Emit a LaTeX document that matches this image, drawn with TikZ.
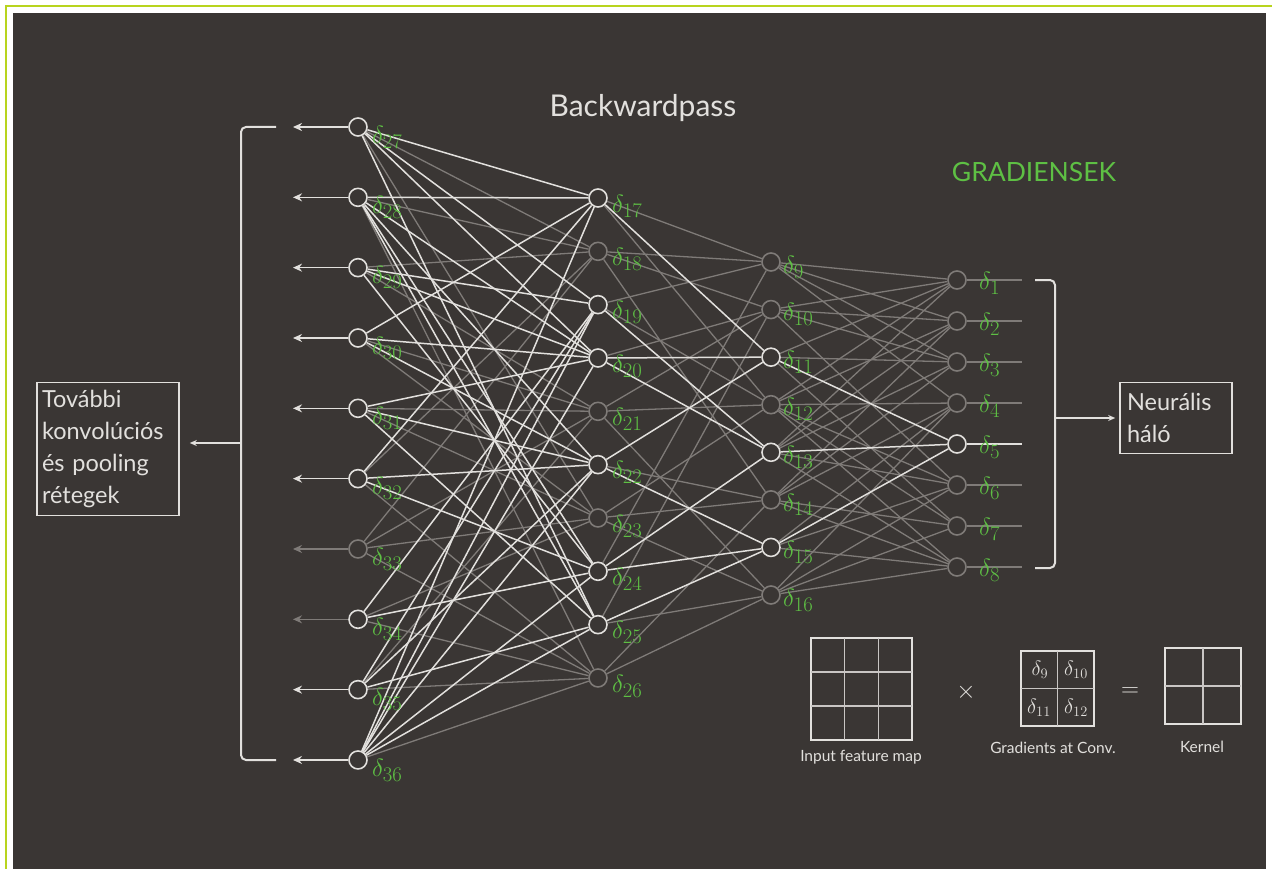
\documentclass[tikz,border=0pt]{standalone}
\usepackage{fontspec}
\setmainfont{Lato}
\usetikzlibrary{arrows.meta,calc}
\definecolor{bgc}{HTML}{3A3634}
\definecolor{bright}{HTML}{E2E0DD}
\definecolor{dim}{HTML}{7F7B78}
\definecolor{dgreen}{HTML}{5EC044}
\definecolor{framec}{HTML}{B8D41E}
\pgfdeclarelayer{back}
\pgfdeclarelayer{edges}
\pgfsetlayers{back,edges,main}
\tikzset{
  bnode/.style={circle, draw=bright, fill=bgc, line width=1.6pt, minimum size=18pt, inner sep=0pt},
  dnode/.style={circle, draw=dim, fill=bgc, line width=1.6pt, minimum size=18pt, inner sep=0pt},
  bedge/.style={draw=bright, line width=1.5pt},
  dedge/.style={draw=dim, line width=1.3pt},
  lab/.style={text=dgreen, inner sep=0pt, anchor=west, font=\fontsize{30}{30}\selectfont},
  barrow/.style={draw=bright, line width=1.5pt, -{Stealth[length=9pt,width=8pt]}},
  darrow/.style={draw=dim, line width=1.5pt, -{Stealth[length=9pt,width=8pt]}},
  brk/.style={draw=bright, line width=2pt, rounded corners=5pt},
  txtbox/.style={draw=bright, line width=1.6pt, text=bright, align=left, inner sep=0pt},
  gridl/.style={draw=bright, line width=1.5pt},
  small/.style={text=bright, font=\fontsize{15.5}{15.5}\selectfont, inner sep=0pt},
  gd/.style={text=bright, font=\fontsize{22}{22}\selectfont, inner sep=0pt},
}
\begin{document}
\begin{tikzpicture}[x=1pt,y=-1pt]
\useasboundingbox (0,0) rectangle (1272,869);
\begin{pgfonlayer}{back}
\fill[white] (0,0) rectangle (1272,869);
\fill[bgc] (13,13) rectangle (1266,869);
\draw[framec, line width=2.5pt] (6,869) -- (6,6) -- (1272,6);
\end{pgfonlayer}

% titles
\node[text=bright, font=\fontsize{30}{30}\selectfont] (title) at (643,108) {Backwardpass};
\node[text=dgreen, font=\fontsize{26.5}{26.5}\selectfont] (grad) at (1034,172) {GRADIENSEK};

% layer 1
\foreach \i/\s in {27/bnode,28/bnode,29/bnode,30/bnode,31/bnode,32/bnode,33/dnode,34/bnode,35/bnode,36/bnode}{
  \pgfmathsetmacro{\yy}{127+70.33*(\i-27)}
  \node[\s] (n\i) at (358,\yy) {};
  \node[lab] (l\i) at (372,\yy+10) {$\delta_{\i}$};
  \coordinate (a\i) at (293,\yy);
}
% layer 2
\foreach \i/\s in {17/bnode,18/dnode,19/bnode,20/bnode,21/dnode,22/bnode,23/dnode,24/bnode,25/bnode,26/dnode}{
  \pgfmathsetmacro{\yy}{198+53.33*(\i-17)}
  \node[\s] (n\i) at (598,\yy) {};
  \node[lab] (l\i) at (612,\yy+8) {$\delta_{\i}$};
}
% layer 3
\foreach \i/\s in {9/dnode,10/dnode,11/bnode,12/dnode,13/bnode,14/dnode,15/bnode,16/dnode}{
  \pgfmathsetmacro{\yy}{262+47.57*(\i-9)}
  \node[\s] (n\i) at (771,\yy) {};
  \node[lab] (l\i) at (783,\yy+5) {$\delta_{\i}$};
}
% layer 4
\foreach \i/\s in {1/dnode,2/dnode,3/dnode,4/dnode,5/bnode,6/dnode,7/dnode,8/dnode}{
  \pgfmathsetmacro{\yy}{280+41*(\i-1)}
  \node[\s] (n\i) at (957,\yy) {};
  \coordinate (e\i) at (1022,\yy);
}

\begin{pgfonlayer}{edges}
% output stubs
\foreach \i in {1,2,3,4,6,7,8}{ \draw[dedge] (n\i) -- (e\i); }
\draw[bedge] (n5) -- (e5);
% dim L3-L4
\foreach \a/\b in {1/9,1/10,1/11,1/12,1/13, 2/9,2/10,2/12,2/13,2/14, 3/10,3/11,3/13,3/14,3/9, 4/9,4/12,4/14,4/15,4/16,
                   6/12,6/13,6/15,6/16,6/10, 7/11,7/14,7/16,7/12, 8/14,8/15,8/16,8/12,8/13}{ \draw[dedge] (n\a) -- (n\b); }
% dim L2-L3
\foreach \a/\b in {9/17,9/19,9/18,9/24, 10/18,10/21,10/20,10/25, 12/21,12/23,12/19,12/17, 14/23,14/22,14/26,14/18, 16/26,16/25,16/23, 16/21}{ \draw[dedge] (n\a) -- (n\b); }
% dim L1-L2
\foreach \a/\b in {27/18,28/18,29/21,29/18,30/21,30/23,31/23,31/21,33/21,33/23,33/26,33/18,34/26,35/26,36/26,32/26,34/23,27/23,28/26,32/18,35/21}{ \draw[dedge] (n\a) -- (n\b); }
% bright
\foreach \a/\b in {5/11,5/13,5/15, 11/17,11/20,11/22, 13/19,13/24,13/20, 15/22,15/25,15/24}{ \draw[bedge] (n\a) -- (n\b); }
\foreach \a/\b in {27/17,27/20,27/25,27/19, 28/17,28/20,28/22,28/24,28/25, 29/19,29/24,29/20, 30/17,30/20,30/22, 31/20,31/22,31/25,
                   32/22,32/24,32/17, 34/24,34/19, 35/25,35/19,35/22, 36/25,36/24,36/22,36/19,36/17,36/20}{ \draw[bedge] (n\a) -- (n\b); }
\end{pgfonlayer}

% layer 4 labels (on top of stubs)
\foreach \i in {1,...,8}{
  \pgfmathsetmacro{\yy}{280+41*(\i-1)}
  \node[lab] (l\i) at (979,\yy+3) {$\delta_{\i}$};
}

% input arrows
\foreach \i in {27,28,29,30,31,32,35,36}{ \draw[barrow] (n\i) -- (a\i); }
\foreach \i in {33,34}{ \draw[darrow] (n\i) -- (a\i); }

% boxes
\node[txtbox, minimum width=142pt, minimum height=133pt, font=\fontsize{23.5}{32}\selectfont, text width=132pt] (tov) at (108,449) {További\\konvolúciós\\és pooling\\rétegek};
\node[txtbox, minimum width=112pt, minimum height=71pt, font=\fontsize{23.5}{32}\selectfont, text width=98pt] (neu) at (1176,418) {Neurális\\háló};

% left bracket
\coordinate (lbt) at (276,127);
\coordinate (lbb) at (276,760);
\coordinate (lbm) at (241,443);
\draw[brk] (lbt) -- (241,127) -- (241,760) -- (lbb);
\draw[draw=bright, line width=1.8pt, -{Stealth[length=7pt,width=6pt]}, shorten >=10pt] (lbm) -- (tov.east |- lbm);
% right bracket
\coordinate (rbt) at (1035,280);
\coordinate (rbb) at (1035,568);
\coordinate (rbm) at (1055,418);
\draw[brk] (rbt) -- (1055,280) -- (1055,568) -- (rbb);
\draw[draw=bright, line width=1.8pt, -{Stealth[length=7pt,width=6pt]}, shorten >=4pt] (rbm) -- (neu.west |- rbm);

% bottom formula
\draw[gridl] (811,638) rectangle (912,740);
\draw[draw=bright!85!bgc, line width=1.2pt] (844.7,638) -- (844.7,740) (878.3,638) -- (878.3,740) (811,672) -- (912,672) (811,706) -- (912,706);
\node[small] (ifm) at (861,757) {Input feature map};
\node[text=bright, font=\fontsize{28}{28}\selectfont] (times) at (966,692) {$\times$};
\draw[gridl] (1021,651) rectangle (1094,726);
\draw[draw=bright!85!bgc, line width=1.2pt] (1057.5,651) -- (1057.5,726) (1021,688.5) -- (1094,688.5);
\node[gd] (g9) at (1040,670) {$\delta_9$};
\node[gd] (g10) at (1076,670) {$\delta_{10}$};
\node[gd] (g11) at (1039,708) {$\delta_{11}$};
\node[gd] (g12) at (1076,708) {$\delta_{12}$};
\node[small] (gac) at (1053,748) {Gradients at Conv.};
\node[text=bright, font=\fontsize{28}{28}\selectfont] (eq) at (1130,692) {$=$};
\draw[gridl] (1165,648) rectangle (1241,724);
\draw[draw=bright!85!bgc, line width=1.2pt] (1203,648) -- (1203,724) (1165,686) -- (1241,686);
\node[small] (ker) at (1202,747) {Kernel};
\end{tikzpicture}
\end{document}
